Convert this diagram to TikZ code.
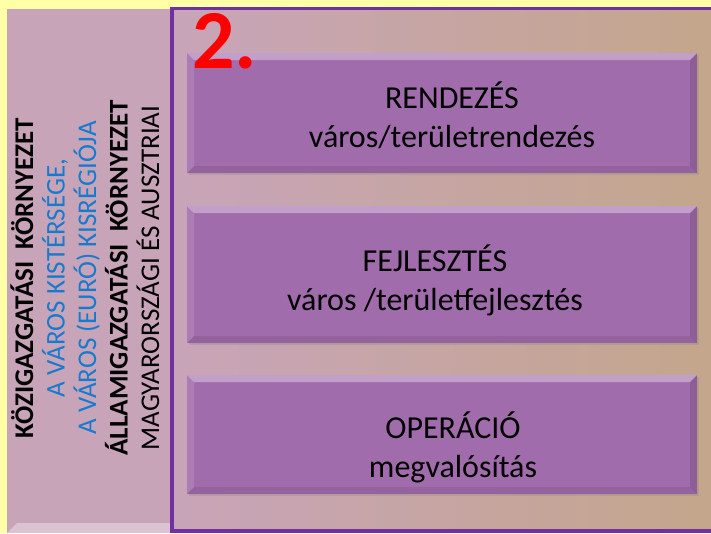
\documentclass[tikz,border=0pt]{standalone}
\usepackage{fontspec}
\setmainfont{Carlito}
\usetikzlibrary{calc, shadows}

\definecolor{bgyellow}{RGB}{255,255,168}
\definecolor{panelmauve}{RGB}{200,164,185}
\definecolor{paneltan}{RGB}{196,166,140}
\definecolor{framepurple}{RGB}{112,48,160}
\definecolor{boxpurple}{RGB}{161,108,171}
\definecolor{textblue}{RGB}{22,122,206}
\definecolor{numred}{RGB}{255,0,0}

\tikzset{
  bevelbox/.style={minimum width=510pt, minimum height=#1, inner sep=0pt,
    fill=boxpurple, drop shadow={shadow xshift=1.5pt, shadow yshift=-2pt, opacity=0.25},
    path picture={
      \fill[white, opacity=0.35] (path picture bounding box.north west)
        -- (path picture bounding box.north east)
        -- ([xshift=-7pt,yshift=-7pt]path picture bounding box.north east)
        -- ([xshift=7pt,yshift=-7pt]path picture bounding box.north west) -- cycle;
      \fill[white, opacity=0.12] (path picture bounding box.north west)
        -- ([xshift=7pt,yshift=-7pt]path picture bounding box.north west)
        -- ([xshift=7pt,yshift=7pt]path picture bounding box.south west)
        -- (path picture bounding box.south west) -- cycle;
      \fill[black, opacity=0.12] (path picture bounding box.north east)
        -- ([xshift=-7pt,yshift=-7pt]path picture bounding box.north east)
        -- ([xshift=-7pt,yshift=7pt]path picture bounding box.south east)
        -- (path picture bounding box.south east) -- cycle;
      \fill[black, opacity=0.08] (path picture bounding box.south west)
        -- ([xshift=7pt,yshift=7pt]path picture bounding box.south west)
        -- ([xshift=-7pt,yshift=7pt]path picture bounding box.south east)
        -- (path picture bounding box.south east) -- cycle;
    }},
  boxtext/.style={align=center, font=\fontsize{32}{39}\selectfont, inner sep=0pt},
  sidetext/.style={rotate=90, align=center, font=\fontsize{27}{31.5}\selectfont, inner sep=0pt},
}

\begin{document}
\begin{tikzpicture}[x=1pt,y=-1pt]
  \useasboundingbox (0,0) rectangle (711,533);
  % background and panels
  \fill[bgyellow] (0,0) rectangle (711,533);
  \fill[panelmauve] (7,9) rectangle (711,533);
  \fill[white, opacity=0.35] (7,533) -- (17,523) -- (711,523) -- (711,533) -- cycle;
  \fill[left color=panelmauve, right color=paneltan] (173,9) rectangle (711,530);
  \draw[framepurple, line width=3.5pt] (172,8.5) rectangle (714,531);

  % side texts
  \node[sidetext] (side) at (85,278) {%
    \textbf{KÖZIGAZGATÁSI\ \ KÖRNYEZET}\\
    \textcolor{textblue}{A VÁROS KISTÉRSÉGE,}\\
    \textcolor{textblue}{A VÁROS (EURÓ) KISRÉGIÓJA}\\
    \textbf{ÁLLAMIGAZGATÁSI\ \ KÖRNYEZET}\\
    MAGYARORSZÁGI ÉS AUSZTRIAI};

  % the three boxes
  \node[bevelbox=120pt] (rendez) at (442,113) {};
  \node[bevelbox=137pt] (fejleszt) at (442,274.5) {};
  \node[bevelbox=119pt] (operac) at (442,434.5) {};

  \node[boxtext] (rendeztxt) at ([xshift=10pt,yshift=-2pt]rendez.center) {RENDEZÉS\\város/területrendezés};
  \node[boxtext] (fejlesztxt) at ([xshift=-7pt,yshift=-5.5pt]fejleszt.center) {FEJLESZTÉS\\város /területfejlesztés};
  \node[boxtext] (operactxt) at ([xshift=11pt,yshift=-13pt]operac.center) {OPERÁCIÓ\\megvalósítás};

  \node[anchor=base west, inner sep=0pt, text=numred, font=\fontsize{84}{84}\selectfont\bfseries] (num) at (192,68) {2.};
\end{tikzpicture}
\end{document}
